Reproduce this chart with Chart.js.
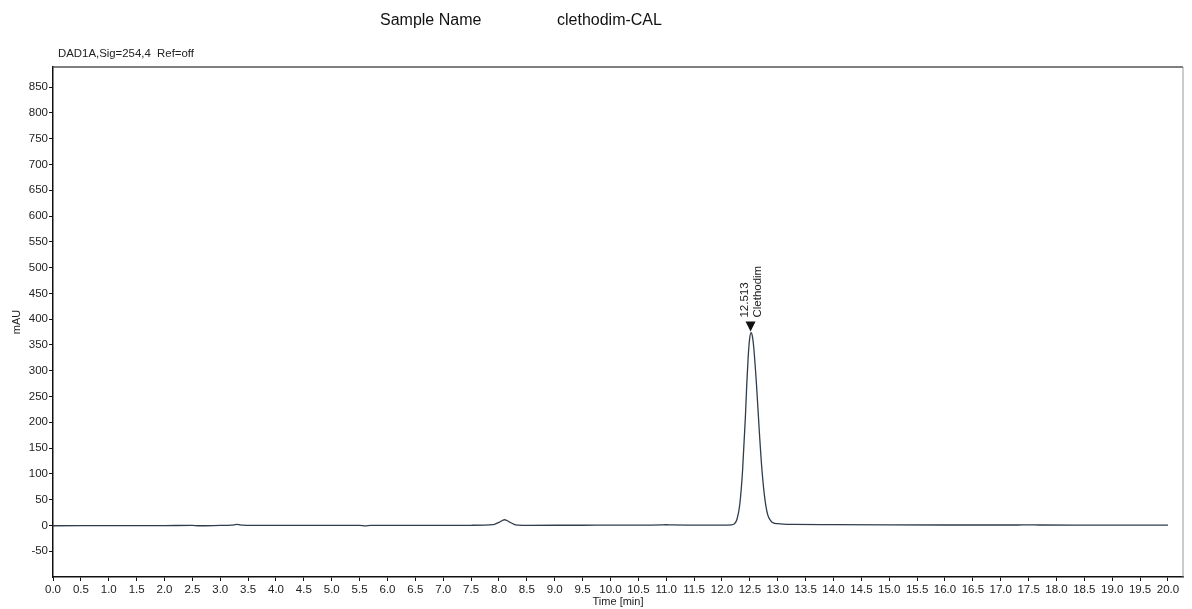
<!DOCTYPE html>
<html>
<head>
<meta charset="utf-8">
<script src="https://cdn.jsdelivr.net/npm/chart.js@4/dist/chart.umd.min.js"></script>
<style>
  html, body { margin: 0; padding: 0; background: #fff; }
  #wrap { position: relative; width: 1192px; height: 609px; font-family: "Liberation Sans", Arial, sans-serif; }
  #chart { position: absolute; left: 0; top: 0; }
  .hdr { position: absolute; color: #111; font-size: 16px; white-space: nowrap; }
  .sig { position: absolute; left: 58px; top: 47px; font-size: 11.4px; color: #222; white-space: pre; }
</style>
</head>
<body>
<div id="wrap">
  <canvas id="chart" width="1192" height="609"></canvas>
  <div class="hdr" style="left:380px; top:11px;">Sample Name</div>
  <div class="hdr" style="left:557px; top:11px;">clethodim-CAL</div>
  <div class="sig">DAD1A,Sig=254,4  Ref=off</div>
</div>
<script>
"use strict";
// retention time (min) and signal (mAU)
var times = [0, 1, 2, 2.5, 2.6, 3.0, 3.2, 3.3, 3.4, 3.6, 4.5, 5.5, 5.6, 5.7, 6.5, 7.5, 7.9, 8.0, 8.1, 8.2, 8.3, 8.5, 9.5, 10.5, 10.9, 11.0, 11.1, 11.5, 12.0,
             12.17, 12.22, 12.27, 12.32, 12.37, 12.42, 12.445, 12.47, 12.495, 12.52, 12.545, 12.57, 12.62, 12.67, 12.72, 12.77, 12.82, 12.87, 12.92,
             13.0, 13.1, 13.3, 14, 15, 16, 17.3, 17.5, 17.7, 18.5, 19.5, 20.0];
var mAU   = [-0.6, -0.4, -0.2, 0, -0.6, 0, 0.5, 2, 0.5, 0, 0, 0, -0.8, 0, 0, 0.3, 1.5, 6, 11, 6, 1.2, 0.3, 0.4, 0.5, 0.9, 1.3, 0.9, 0.6, 0.6,
             1, 3, 12, 41, 107, 210, 274, 326, 361, 374, 367, 345, 272, 182, 104, 51, 21, 10, 5,
             3.5, 2.5, 2, 1.5, 1, 0.8, 0.8, 1.2, 0.8, 0.6, 0.5, 0.5];
var yTicks = [-50, 0, 50, 100, 150, 200, 250, 300, 350, 400, 450, 500, 550, 600, 650, 700, 750, 800, 850];
var xTicks = [];
for (var i = 0; i <= 40; i++) xTicks.push(i / 2);
var peakTime = 12.513, peakHeight = 374, peakName = "Clethodim";

var points = times.map(function (t, i) { return { x: t, y: mAU[i] }; });

var frame = {
  id: "frame",
  afterDraw: function (c) {
    var a = c.chartArea, ctx = c.ctx;
    ctx.save();
    ctx.lineWidth = 1.5;
    ctx.strokeStyle = "#555";
    ctx.beginPath(); ctx.moveTo(a.left, a.top); ctx.lineTo(a.right, a.top); ctx.stroke();
    ctx.lineWidth = 1;
    ctx.strokeStyle = "#999";
    ctx.beginPath(); ctx.moveTo(a.right, a.top); ctx.lineTo(a.right, a.bottom); ctx.stroke();
    ctx.restore();
  }
};

var peakLabel = {
  id: "peakLabel",
  afterDatasetsDraw: function (c) {
    var ctx = c.ctx;
    var px = c.scales.x.getPixelForValue(peakTime);
    var py = c.scales.y.getPixelForValue(peakHeight);
    ctx.save();
    ctx.fillStyle = "#111";
    ctx.beginPath();
    ctx.moveTo(px, py - 1);
    ctx.lineTo(px - 5, py - 11);
    ctx.lineTo(px + 5, py - 11);
    ctx.closePath();
    ctx.fill();
    ctx.font = "11.5px 'Liberation Sans', Arial, sans-serif";
    ctx.fillStyle = "#222";
    ctx.textAlign = "left";
    ctx.textBaseline = "middle";
    ctx.translate(px - 6, py - 15);
    ctx.rotate(-Math.PI / 2);
    ctx.fillText(peakTime.toFixed(3), 0, 0);
    ctx.fillText(peakName, 0, 13);
    ctx.restore();
  }
};

new Chart(document.getElementById("chart").getContext("2d"), {
  type: "line",
  data: {
    datasets: [{
      data: points,
      borderColor: "#2f3d4c",
      borderWidth: 1.3,
      pointRadius: 0,
      fill: false,
      cubicInterpolationMode: "monotone"
    }]
  },
  options: {
    responsive: false,
    animation: false,
    layout: { padding: { top: 67, right: 9, left: 0, bottom: 0 } },
    plugins: { legend: { display: false }, tooltip: { enabled: false } },
    scales: {
      x: {
        type: "linear",
        min: 0,
        max: 20.27,
        afterBuildTicks: function (s) { s.ticks = xTicks.map(function (v) { return { value: v }; }); },
        afterFit: function (s) { s.height = 32; },
        grid: { drawOnChartArea: false, tickLength: 4, tickColor: "#111", tickWidth: 1 },
        border: { color: "#111", width: 1.5 },
        ticks: {
          autoSkip: false, maxRotation: 0, padding: 2,
          color: "#222", font: { family: "'Liberation Sans', Arial", size: 11.5 },
          callback: function (v) { return v.toFixed(1); }
        },
        title: { display: true, text: "Time [min]", color: "#222", padding: { top: 0, bottom: 0 }, font: { family: "'Liberation Sans', Arial", size: 11 } }
      },
      y: {
        min: -100,
        max: 889,
        afterBuildTicks: function (s) { s.ticks = yTicks.map(function (v) { return { value: v }; }); },
        afterFit: function (s) { s.width = 53; },
        grid: { drawOnChartArea: false, tickLength: 4, tickColor: "#111", tickWidth: 1 },
        border: { color: "#111", width: 1.5 },
        ticks: {
          padding: 1, color: "#222", font: { family: "'Liberation Sans', Arial", size: 11.5 }
        },
        title: { display: true, text: "mAU", color: "#222", padding: { top: 10, bottom: 4 }, font: { family: "'Liberation Sans', Arial", size: 11 } }
      }
    }
  },
  plugins: [frame, peakLabel]
});
</script>
</body>
</html>
